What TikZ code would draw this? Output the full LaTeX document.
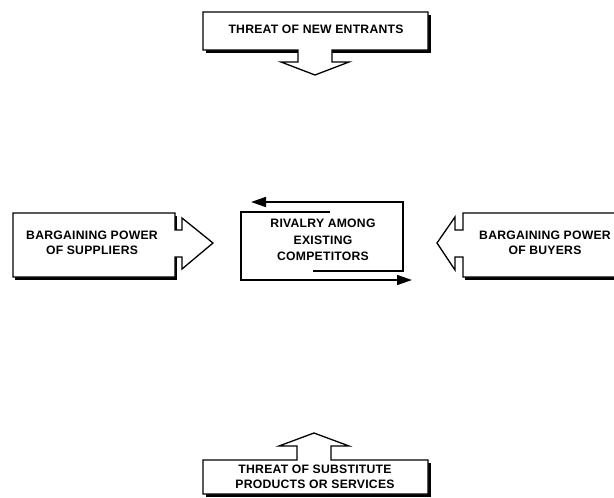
\documentclass[tikz,border=0pt]{standalone}
\usepackage{fontspec}
\setmainfont{Liberation Sans}[LetterSpace=2]
\usetikzlibrary{arrows.meta}
\tikzset{
  boxshape/.style={draw=black, line width=1.3pt, fill=white, line join=miter},
  boxshadow/.style={fill=black},
  lbl/.style={font=\bfseries\fontsize{12.2}{15}\selectfont, align=center, inner sep=0pt},
  rival/.style={line width=1.6pt, -{Triangle[length=15pt,width=10pt]}},
}
\begin{document}
\begin{tikzpicture}[x=1pt,y=-1pt]
\useasboundingbox (0,0) rectangle (614,498);
% top box
\fill[boxshadow] (206,15) rectangle (431,53);
\draw[boxshape] (203,12) -- (428,12) -- (428,50) -- (332,50) -- (332,62) -- (349,62) -- (315,75) -- (281,62) -- (298,62) -- (298,50) -- (203,50) -- cycle;
\node[lbl] (entrants) at (316,29) {THREAT OF NEW ENTRANTS};
% left box
\fill[boxshadow] (15,216) rectangle (177,280);
\draw[boxshape] (13,213) -- (175,213) -- (175,230) -- (182,230) -- (182,218) -- (213,243) -- (182,269) -- (182,257) -- (175,257) -- (175,277) -- (13,277) -- cycle;
\node[lbl] (suppliers) at (92,243) {BARGAINING POWER\\OF SUPPLIERS};
% right box
\fill[boxshadow] (465,216) rectangle (630,280);
\draw[boxshape] (625,213) -- (463,213) -- (463,230) -- (455,230) -- (455,217) -- (437,243) -- (455,270) -- (455,257) -- (463,257) -- (463,277) -- (625,277) -- cycle;
\node[lbl] (buyers) at (545,243) {BARGAINING POWER\\OF BUYERS};
% bottom box
\fill[boxshadow] (206,463) rectangle (431,497);
\draw[boxshape] (203,460) -- (297,460) -- (297,446) -- (279,446) -- (314,433) -- (349,446) -- (331,446) -- (331,460) -- (428,460) -- (428,494) -- (203,494) -- cycle;
\node[lbl] (substitutes) at (315,477) {THREAT OF SUBSTITUTE\\PRODUCTS OR SERVICES};
% centre
\node[lbl, font=\bfseries\fontsize{12.2}{16.5}\selectfont] (rivalry) at (323,240) {RIVALRY AMONG\\EXISTING\\COMPETITORS};
\coordinate (a1) at (330,212);
\coordinate (a2) at (241,212);
\coordinate (a3) at (241,280);
\coordinate (a4) at (412,280);
\coordinate (b1) at (313,271);
\coordinate (b2) at (403,271);
\coordinate (b3) at (403,202);
\coordinate (b4) at (251,202);
\draw[rival] (a1) -- (a2) -- (a3) -- (a4);
\draw[rival] (b1) -- (b2) -- (b3) -- (b4);
\end{tikzpicture}
\end{document}
